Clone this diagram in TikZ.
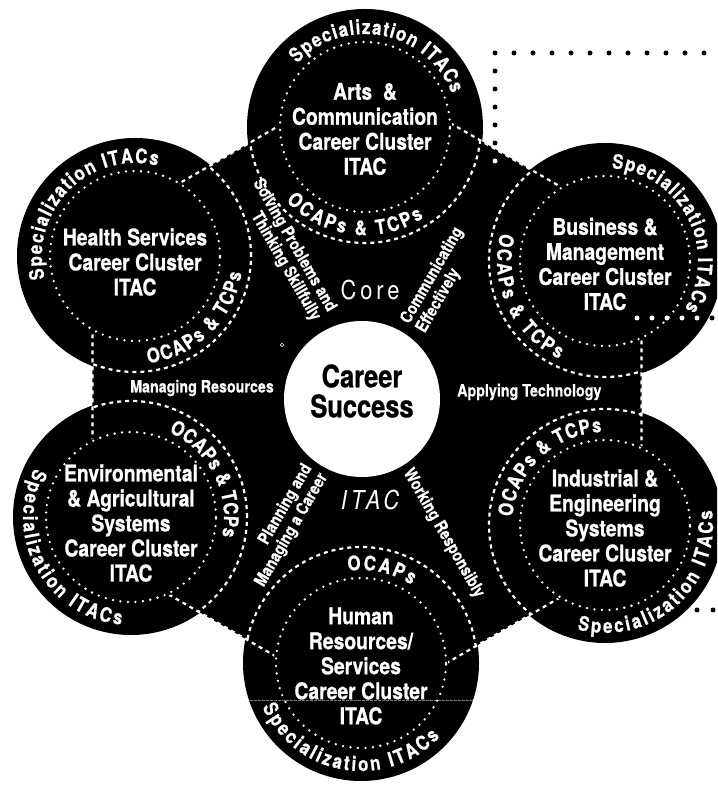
\documentclass[tikz,border=0pt]{standalone}
\usepackage{fontspec}
\setmainfont{TeX Gyre Heros}[FakeStretch=0.84]
\newfontfamily\narrowfont{TeX Gyre Heros}[FakeStretch=0.82]
\usetikzlibrary{decorations.text}

\newcommand\ringfont{\bfseries\addfontfeature{FakeBold=0.8}\fontsize{20}{20}\selectfont}

\begin{document}
\begin{tikzpicture}[x=1pt,y=1pt,
  edgedash/.style={white,line width=2.2pt,dash pattern=on 4pt off 4pt},
  ringdots/.style={white,line width=2.6pt,line cap=round,dash pattern=on 0pt off 7.5pt},
  title/.style={white,align=center,inner sep=0pt,font=\bfseries\addfontfeature{FakeBold=0.8}\fontsize{23}{25}\selectfont},
  spoke/.style={white,inner sep=0pt,font=\bfseries\addfontfeature{FakeBold=0.5}\fontsize{17}{18}\selectfont},
  ringtext/.style={decorate,decoration={text along path,text={|\ringfont|#1},text color=white,text align=fit to path}}]
\useasboundingbox (0,0) rectangle (717,789);
\clip (0,0) rectangle (717,789);

\coordinate (mid) at (367,397);
\foreach \a [count=\i] in {90,30,-30,-90,-150,150}
  \path (mid) ++(\a:317) coordinate (hex\i);

\coordinate (arts) at (365,662);
\coordinate (business) at (605,528);
\coordinate (industrial) at (605,264);
\coordinate (human) at (361,126);
\coordinate (environ) at (131,272);
\coordinate (health) at (135,533);

\fill (hex1) -- (hex2) -- (hex3) -- (hex4) -- (hex5) -- (hex6) -- cycle;
\foreach \c in {arts,business,industrial,human,environ,health}
  \fill (\c) circle (118);

\draw[edgedash] (hex1) -- (hex2) -- (hex3) -- (hex4) -- (hex5) -- (hex6) -- cycle;
\begin{scope}
\clip (hex1) -- (hex2) -- (hex3) -- (hex4) -- (hex5) -- (hex6) -- cycle;
\foreach \c in {arts,business,industrial,human,environ,health}
  \draw[edgedash] (\c) circle (116);
\end{scope}

\foreach \c in {arts,business,industrial,human,environ,health} {
  \fill (\c) circle (87);
  \draw[ringdots] (\c) circle (85);
}

\draw[white,line width=0.4pt,opacity=0.5,dash pattern=on 3pt off 1pt] (250,89) -- (474,89);
\draw[white,line width=0.6pt] (282,444) circle (1.8);

\fill[white] (362,390) circle (78);
\node[font=\narrowfont\bfseries\addfontfeature{FakeBold=0.8}\fontsize{31}{30}\selectfont,align=center] (success) at (362,398) {Career\\Success};

\node[title] (artsT) at ([yshift=-2pt]arts) {Arts~~\&\\Communication\\Career Cluster\\ITAC};
\node[title] (businessT) at ([yshift=-3pt]business) {Business \&\\Management\\Career Cluster\\ITAC};
\node[title] (industrialT) at ([yshift=-3pt]industrial) {Industrial \&\\Engineering\\Systems\\Career Cluster\\ITAC};
\node[title] (humanT) at ([yshift=-3pt]human) {Human\\Resources/\\Services\\Career Cluster\\ITAC};
\node[title] (environT) at ([yshift=-6pt]environ) {Environmental\\\& Agricultural\\Systems\\Career Cluster\\ITAC};
\node[title] (healthT) at ([yshift=-6pt]health) {Health Services\\Career Cluster\\ITAC};

\path[ringtext=Specialization ITACs,shift={(arts)}] (137:93) arc[start angle=137,end angle=21,radius=93];
\path[ringtext=OCAPs {\&} TCPs,shift={(arts)}] (223:108) arc[start angle=223,end angle=303,radius=108];
\path[ringtext=Specialization ITACs,shift={(health)}] (194:93) arc[start angle=194,end angle=76,radius=93];
\path[ringtext=OCAPs {\&} TCPs,shift={(health)}] (277:108) arc[start angle=277,end angle=351,radius=108];
\path[ringtext=Specialization ITACs,shift={(business)}] (86:93) arc[start angle=86,end angle=-31,radius=93];
\path[ringtext=OCAPs {\&} TCPs,shift={(business)}] (165:108) arc[start angle=165,end angle=245,radius=108];
\path[ringtext=OCAPs {\&} TCPs,shift={(industrial)}] (175:93) arc[start angle=175,end angle=92,radius=93];
\path[ringtext=Specialization ITACs,shift={(industrial)}] (255:108) arc[start angle=255,end angle=368,radius=108];
\path[ringtext=OCAPs,shift={(human)}] (98:93) arc[start angle=98,end angle=57,radius=93];
\path[ringtext=Specialization ITACs,shift={(human)}] (204:108) arc[start angle=204,end angle=317,radius=108];
\path[ringtext=OCAPs {\&} TCPs,shift={(environ)}] (66:93) arc[start angle=66,end angle=-12,radius=93];
\path[ringtext=Specialization ITACs,shift={(environ)}] (153:108) arc[start angle=153,end angle=265,radius=108];

\node[spoke,rotate=-60,anchor=east,align=right] (solving) at (324,474) {Solving Problems and\\Thinking Skillfully};
\node[spoke,rotate=60,anchor=west,align=left] (communicating) at (413,462) {Communicating\\Effectively};
\node[spoke,anchor=east] (managing) at (274,401) {Managing Resources};
\node[spoke,anchor=west] (applying) at (457,397) {Applying Technology};
\node[spoke,rotate=60,anchor=east,align=right] (planning) at (316,319) {Planning and\\Managing a Career};
\node[spoke,rotate=-60,anchor=west] (working) at (407,319) {Working Responsibly};

\node[white,font=\fontsize{26}{26}\selectfont\addfontfeature{LetterSpace=15}] (core) at (370,499) {Core};
\node[white,font=\itshape\fontsize{26}{26}\selectfont\addfontfeature{LetterSpace=15}] (itac) at (370,289) {ITAC};

\foreach \y in {736,718,...,646}
  \fill (495,\y) circle (2.5);
\fill[white] (495,628) circle (2.5);
\foreach \x in {514,533,...,710}
  \fill (\x,736) circle (2.5);
\foreach \x in {637,652,...,697}
  \fill[white] (\x,471) circle (2.5);
\fill (712,471) circle (2.5);
\fill (697,179) circle (2.5);
\fill (713,179) circle (2.5);

\end{tikzpicture}
\end{document}
